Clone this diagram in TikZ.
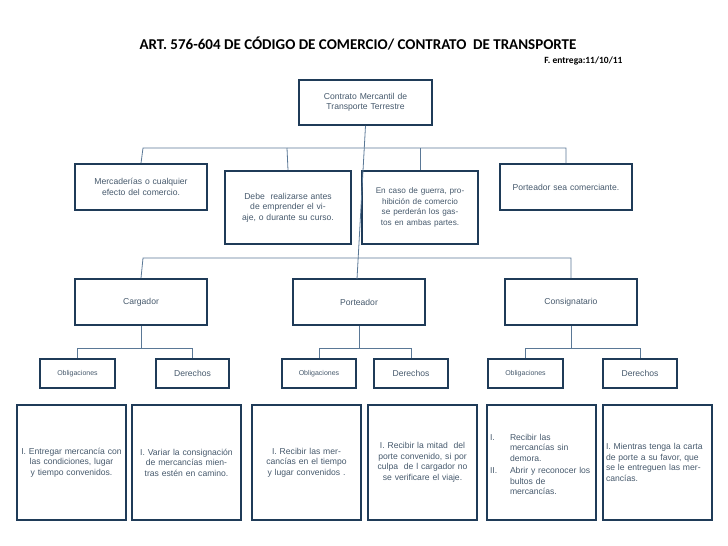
\documentclass[tikz,border=0pt]{standalone}
\usepackage{fontspec}
\setmainfont{Liberation Sans}
\newfontfamily\titlefont{Carlito}
\definecolor{bx}{HTML}{1F3B58}
\definecolor{tx}{HTML}{46596C}
\definecolor{ln}{HTML}{5A7896}
\tikzset{
  bxs/.style={draw=bx,line width=1.6pt,text=tx,align=center,inner sep=2pt,font=\fontsize{8.6}{10.5}\selectfont},
  cn/.style={draw=ln,line width=0.8pt},
}
\newcommand{\bxat}[6]{\node[bxs,minimum width=#4-#2,minimum height=#5-#3,text width=#4-#2-6] (#1) at ({(#2+#4)/2},{(#3+#5)/2}) {#6};}
\begin{document}
\begin{tikzpicture}[x=1pt,y=-1pt]
\useasboundingbox (0,0) rectangle (728,546);
\node[font=\titlefont\bfseries\fontsize{15}{18}\selectfont,text=black] (title) at (358,44) {ART. 576-604 DE CÓDIGO DE COMERCIO/ CONTRATO\ \ DE TRANSPORTE};
\node[font=\titlefont\bfseries\fontsize{9.5}{11}\selectfont,text=black,anchor=east] (fe) at (626,61) {F. entrega:11/10/11};
\bxat{root}{299}{80}{432}{125}{Contrato Mercantil de Transporte Terrestre}
\bxat{m}{75}{164}{207}{210}{Mercaderías o cualquier efecto del comercio.}
\bxat{d}{225}{171}{351}{244}{Debe\ \ realizarse antes de emprender el viaje, o durante su curso.}
\bxat{e}{362}{171}{478}{244}{\fontsize{8.2}{10.5}\selectfont En caso de guerra, prohibición de comercio\ \ se perderán los gastos en ambas partes.}
\bxat{p}{500}{164}{632}{210}{Porteador sea comerciante.}
\bxat{c}{75}{279}{207}{325}{Cargador}
\bxat{pt}{293}{279}{425}{325}{Porteador}
\bxat{cs}{505}{279}{637}{325}{Consignatario}
\bxat{o1}{40}{359}{115}{388}{\fontsize{7}{8}\selectfont Obligaciones}
\bxat{d1}{156}{359}{229}{388}{Derechos}
\bxat{o2}{282}{359}{356}{388}{\fontsize{7}{8}\selectfont Obligaciones}
\bxat{d2}{374}{359}{448}{388}{Derechos}
\bxat{o3}{488}{359}{563}{388}{\fontsize{7}{8}\selectfont Obligaciones}
\bxat{d3}{603}{359}{677}{388}{Derechos}
\bxat{b1}{17}{405}{126}{520}{I. Entregar mercancía con las condiciones, lugar y tiempo convenidos.}
\bxat{b2}{132}{405}{241}{520}{I. Variar la consignación de mercancías mientras estén en camino.}
\bxat{b3}{252}{405}{361}{520}{I. Recibir las mercancías en el tiempo y lugar convenidos .}
\bxat{b4}{368}{405}{477}{520}{I. Recibir la mitad\ \ del porte convenido, si por culpa\ \ de l cargador no se verificare el viaje.}
\node[bxs,minimum width=109,minimum height=115,text width=103,align=left] (b5) at (541.5,462.5) {%
\begin{list}{}{\leftmargin=20pt\labelwidth=14pt\labelsep=6pt\topsep=0pt\itemsep=2pt\parsep=0pt}
\item[I.\hfill] Recibir las mercancías sin demora.
\item[II.\hfill] Abrir y reconocer los bultos de mercancías.
\end{list}};
\node[bxs,minimum width=109,minimum height=115,text width=103,align=left] (b6) at (657.5,462.5) {I. Mientras tenga la carta de porte a su favor, que se le entreguen las mercancías.};
% connectors
\draw[cn] (root.south) -- (357,279);
\draw[cn] (m.north) -- (143,148) -| (p.north);
\draw[cn] (d.north) -- (287,148);
\draw[cn] (e.north) -- (420,148);
\draw[cn] (c.north) -- (143,258) -| (cs.north);
\foreach \a/\o/\d in {c/o1/d1,pt/o2/d2,cs/o3/d3}{
  \draw[cn] (\a.south) -- ++(0,23) coordinate (j\a);
  \draw[cn] (\o.north) |- (j\a) -| (\d.north);
}
\end{tikzpicture}
\end{document}
